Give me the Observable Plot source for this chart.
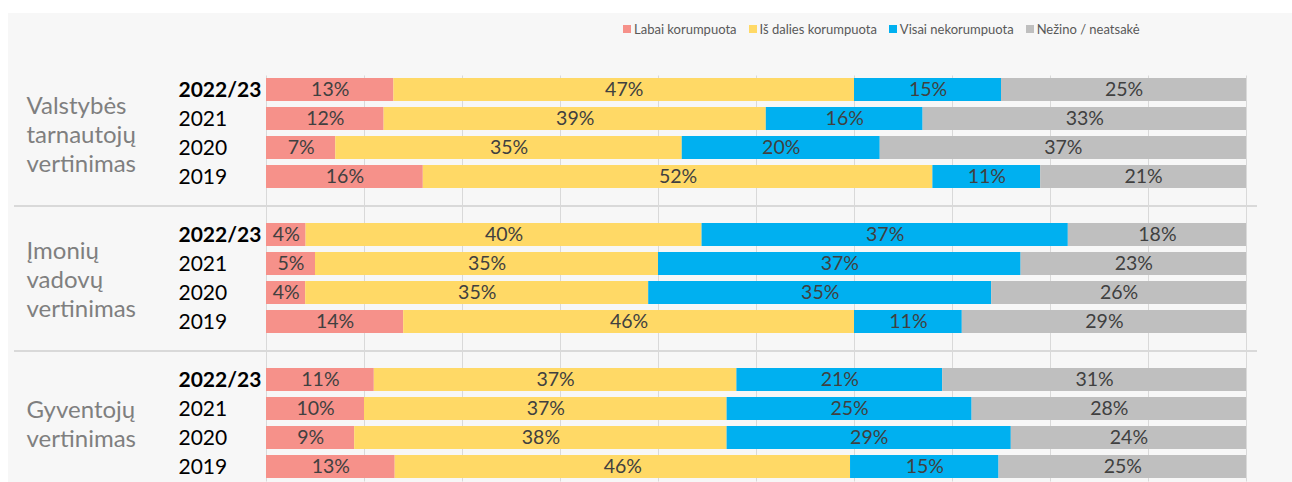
<!DOCTYPE html>
<html>
<head>
<meta charset="utf-8">
<script src="https://cdn.jsdelivr.net/npm/d3@7"></script>
<script src="https://cdn.jsdelivr.net/npm/@observablehq/plot@0.6"></script>
<style>
  html, body { margin: 0; padding: 0; background: #ffffff; width: 1292px; height: 482px; overflow: hidden; }
  #panel { position: absolute; left: 8px; top: 13px; right: 0; bottom: 0; background: #f7f7f7; }
  #chart { position: absolute; left: 0; top: 0; }
  #legend { position: absolute; left: 623px; top: 21px; white-space: nowrap; }
  .lg-swatches { margin: 0 !important; min-height: 16px !important; flex-wrap: nowrap !important; }
  .lg-swatch { margin-right: 12px !important; }
  .lg-swatch > svg { margin-right: 3px !important; }
</style>
</head>
<body>
<div id="panel"></div>
<div id="chart"></div>
<div id="legend"></div>
<script>
// ---- data ----
const groupNames = ["Valstybės tarnautojų vertinimas", "Įmonių vadovų vertinimas", "Gyventojų vertinimas"];
const groupLabels = ["Valstybės\ntarnautojų\nvertinimas", "Įmonių\nvadovų\nvertinimas", "Gyventojų\nvertinimas"];
const years = ["2022/23", "2021", "2020", "2019"];
const categories = ["Labai korumpuota", "Iš dalies korumpuota", "Visai nekorumpuota", "Nežino / neatsakė"];
const colors = ["#F6918A", "#FFD966", "#00B0F0", "#BFBFBF"];
// values per group, rows in order of `years`
const labaiKorumpuota = [[13, 12, 7, 16], [4, 5, 4, 14], [11, 10, 9, 13]];
const isDaliesKorumpuota = [[47, 39, 35, 52], [40, 35, 35, 46], [37, 37, 38, 46]];
const visaiNekorumpuota = [[15, 16, 20, 11], [37, 37, 35, 11], [21, 25, 29, 15]];
const nezinoNeatsake = [[25, 33, 37, 21], [18, 23, 26, 29], [31, 28, 24, 25]];

// ---- build table ----
const series = [labaiKorumpuota, isDaliesKorumpuota, visaiNekorumpuota, nezinoNeatsake];
const rowKey = (g, y) => `${g}|${y}`;
const data = [];
groupNames.forEach((g, gi) => {
  years.forEach((yr, yi) => {
    categories.forEach((c, ci) => {
      data.push({key: rowKey(g, yr), year: yr, cat: c, value: series[ci][gi][yi]});
    });
  });
});
const yDomain = [];
groupNames.forEach((g, gi) => {
  years.forEach(yr => yDomain.push(rowKey(g, yr)));
  if (gi < groupNames.length - 1) yDomain.push(`gap${gi}`);
});
const gapKeys = yDomain.filter(k => k.startsWith("gap"));
const boldTicks = groupNames.map(g => rowKey(g, years[0]));
const plainTicks = groupNames.flatMap(g => years.slice(1).map(yr => rowKey(g, yr)));
const groupLabelData = groupNames.map((g, gi) => ({key: rowKey(g, years[1]), label: groupLabels[gi]}));

const step = 29;
const chart = Plot.plot({
  width: 1292,
  height: 482,
  marginLeft: 266,
  marginRight: 46,
  marginTop: 75.5,
  marginBottom: 0.5,
  style: {fontFamily: "Lato, sans-serif", background: "transparent", overflow: "visible"},
  x: {domain: [0, 1], axis: null},
  y: {domain: yDomain, paddingInner: 0.2, paddingOuter: 0.1},
  color: {domain: categories, range: colors},
  marks: [
    Plot.gridX({ticks: 10, stroke: "#d9d9d9", strokeOpacity: 1, strokeWidth: 1}),
    Plot.ruleY(gapKeys, {stroke: "#d9d9d9", strokeWidth: 2, insetLeft: -252, insetRight: -11}),
    Plot.barX(data, Plot.stackX({x: "value", y: "key", fill: "cat", z: "cat", offset: "normalize", order: categories})),
    Plot.text(data, Plot.stackX({x: "value", y: "key", z: "cat", offset: "normalize", order: categories,
      text: d => d.value + "%", fill: "#404040", fontSize: 19.5})),
    Plot.axisY(boldTicks, {tickSize: 0, tickPadding: 88, textAnchor: "start", fontSize: 21, fontWeight: "bold", fill: "#000",
      tickFormat: k => k.split("|")[1], label: null}),
    Plot.axisY(plainTicks, {tickSize: 0, tickPadding: 88, textAnchor: "start", fontSize: 21, fill: "#000",
      tickFormat: k => k.split("|")[1], label: null}),
    Plot.text(groupLabelData, {y: "key", text: "label", frameAnchor: "left", textAnchor: "start",
      dx: -240, dy: step / 2, fontSize: 24, lineHeight: 29 / 24, fill: "#7f7f7f", lineAnchor: "middle"})
  ]
});
document.getElementById("chart").appendChild(chart);

const legend = Plot.legend({
  color: {domain: categories, range: colors},
  legend: "swatches",
  swatchSize: 8,
  className: "lg",
  style: {fontFamily: "Lato, sans-serif", fontSize: "13px", color: "#595959", background: "transparent"}
});
document.getElementById("legend").appendChild(legend);
</script>
</body>
</html>
